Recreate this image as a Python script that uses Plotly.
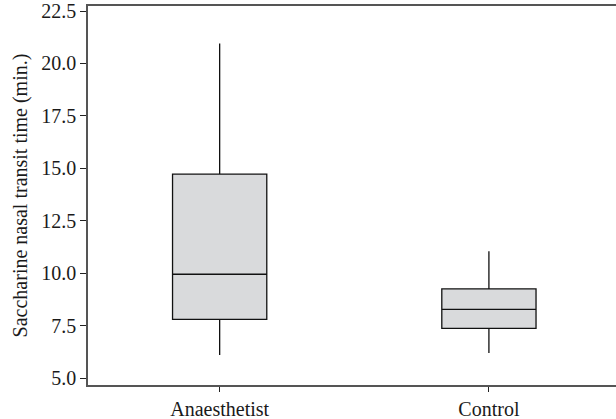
import plotly.graph_objects as go

categories = ["Anaesthetist", "Control"]
lower_whisker = [6.1, 6.2]
q1_values = [7.8, 7.37]
medians = [9.95, 8.28]
q3_values = [14.72, 9.25]
upper_whisker = [20.95, 11.05]
y_ticks = [5.0, 7.5, 10.0, 12.5, 15.0, 17.5, 20.0, 22.5]
y_tick_labels = ["5.0", "7.5", "10.0", "12.5", "15.0", "17.5", "20.0", "22.5"]

FONT = "Liberation Serif"

fig = go.Figure()
fig.add_trace(go.Box(
    x=categories,
    q1=q1_values,
    median=medians,
    q3=q3_values,
    lowerfence=lower_whisker,
    upperfence=upper_whisker,
    fillcolor="#d9dadc",
    line=dict(color="#111111", width=1.3),
    width=0.35,
    whiskerwidth=0,
    boxpoints=False,
    showlegend=False,
    hoverinfo="skip",
))

fig.update_layout(
    width=616,
    height=419,
    margin=dict(l=88, r=0, t=6, b=34),
    paper_bgcolor="white",
    plot_bgcolor="white",
    font=dict(family=FONT, size=20, color="#1a1a1a"),
    xaxis=dict(
        range=[-0.489, 1.472],
        showgrid=False,
        zeroline=False,
        showline=True,
        linecolor="#555555",
        linewidth=1.5,
        mirror=True,
        ticks="outside",
        ticklen=5,
        tickcolor="#222222",
        tickwidth=1,
        tickfont=dict(family=FONT, size=20),
    ),
    yaxis=dict(
        range=[4.67, 22.74],
        tickvals=y_ticks,
        ticktext=y_tick_labels,
        showgrid=False,
        zeroline=False,
        showline=True,
        linecolor="#555555",
        linewidth=1.5,
        ticks="outside",
        ticklen=6,
        tickcolor="#222222",
        tickwidth=1,
        tickfont=dict(family=FONT, size=20),
        title=dict(text="Saccharine nasal transit time (min.)",
                   font=dict(family=FONT, size=20), standoff=8),
    ),
)

fig.write_html("out.html", config={"displayModeBar": False},
               post_script="document.body.style.margin='0';")
